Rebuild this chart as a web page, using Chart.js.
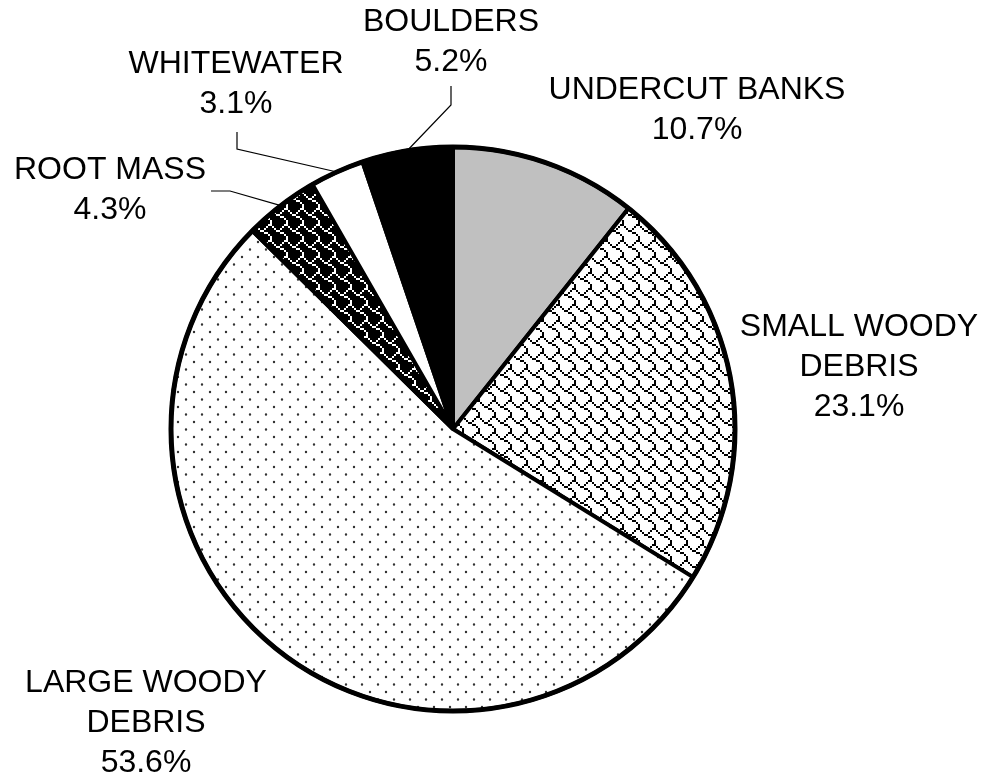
<!DOCTYPE html>
<html>
<head>
<meta charset="utf-8">
<script src="https://cdn.jsdelivr.net/npm/chart.js@4"></script>
<style>
  body { margin: 0; background: #fff; }
  canvas { display: block; }
</style>
</head>
<body>
<canvas id="habitatPie" width="986" height="779"></canvas>
<script>
const ctx = document.getElementById('habitatPie');

// cover types, clockwise from 12 o'clock
const categories = ['UNDERCUT BANKS', 'SMALL WOODY DEBRIS', 'LARGE WOODY DEBRIS', 'ROOT MASS', 'WHITEWATER', 'BOULDERS'];
const shares = [10.7, 23.1, 53.6, 4.3, 3.1, 5.2];
// how each label is broken over lines
const labelLines = [
  ['UNDERCUT BANKS'],
  ['SMALL WOODY', 'DEBRIS'],
  ['LARGE WOODY', 'DEBRIS'],
  ['ROOT MASS'],
  ['WHITEWATER'],
  ['BOULDERS']
];

// where the label blocks sit (centre of first line) and the leader line elbows
const labelLayout = [
  { x: 697, y: 90 },
  { x: 859, y: 327 },
  { x: 146, y: 683 },
  { x: 110, y: 170, leader: [[230, 191], [211, 191]] },
  { x: 236, y: 64, leader: [[237, 149], [237, 132]] },
  { x: 451, y: 22, leader: [[451, 105], [451, 86]] }
];
const lineGap = 40;
const labelFont = '32px "Liberation Sans", Arial, sans-serif';

function makeTile(w, h, bg, paint) {
  const c = document.createElement('canvas');
  c.width = w;
  c.height = h;
  const g = c.getContext('2d');
  g.fillStyle = bg;
  g.fillRect(0, 0, w, h);
  paint(g);
  return g.createPattern(c, 'repeat');
}

// 8x8 shingle bitmap, drawn at 2x
const shingleRows = [0x03, 0x84, 0x48, 0x30, 0x0c, 0x02, 0x01, 0x01];
function shingle(bg, ink) {
  return makeTile(16, 16, bg, g => {
    g.fillStyle = ink;
    shingleRows.forEach((row, r) => {
      for (let b = 0; b < 8; b++) {
        if (row & (0x80 >> b)) g.fillRect(b * 2, r * 2, 2, 2);
      }
    });
  });
}

const dots = makeTile(16, 15, '#fff', g => {
  g.fillStyle = '#333';
  g.beginPath();
  g.arc(2, 2, 1.2, 0, Math.PI * 2);
  g.arc(10, 9.5, 1.2, 0, Math.PI * 2);
  g.fill();
});

const fills = ['#c0c0c0', shingle('#fff', '#000'), dots, shingle('#000', '#fff'), '#fff', '#000'];

const outerRing = {
  id: 'outerRing',
  afterDatasetsDraw(chart) {
    const arc = chart.getDatasetMeta(0).data[0];
    const c = chart.ctx;
    c.save();
    c.strokeStyle = '#000';
    c.lineWidth = 5;
    c.beginPath();
    c.arc(arc.x, arc.y, arc.outerRadius, 0, Math.PI * 2);
    c.stroke();
    c.restore();
  }
};

const sliceLabels = {
  id: 'sliceLabels',
  afterDraw(chart) {
    const c = chart.ctx;
    const arcs = chart.getDatasetMeta(0).data;
    c.save();
    c.font = labelFont;
    c.fillStyle = '#000';
    c.textAlign = 'center';
    c.textBaseline = 'middle';
    labelLayout.forEach((pos, i) => {
      const lines = labelLines[i].concat(shares[i].toFixed(1) + '%');
      lines.forEach((t, k) => c.fillText(t, pos.x, pos.y + k * lineGap));
      if (pos.leader) {
        const a = arcs[i];
        const mid = (a.startAngle + a.endAngle) / 2;
        c.strokeStyle = '#000';
        c.lineWidth = 1.2;
        c.beginPath();
        c.moveTo(a.x + Math.cos(mid) * a.outerRadius, a.y + Math.sin(mid) * a.outerRadius);
        pos.leader.forEach(p => c.lineTo(p[0], p[1]));
        c.stroke();
      }
    });
    c.restore();
  }
};

new Chart(ctx, {
  type: 'pie',
  data: {
    labels: categories,
    datasets: [{
      data: shares,
      backgroundColor: fills,
      borderColor: '#000',
      borderWidth: 4,
      radius: 282
    }]
  },
  options: {
    responsive: false,
    animation: false,
    layout: {
      padding: { left: 100, right: 180, top: 140, bottom: 61 }
    },
    plugins: {
      legend: { display: false },
      tooltip: { enabled: false }
    }
  },
  plugins: [outerRing, sliceLabels]
});
</script>
</body>
</html>
